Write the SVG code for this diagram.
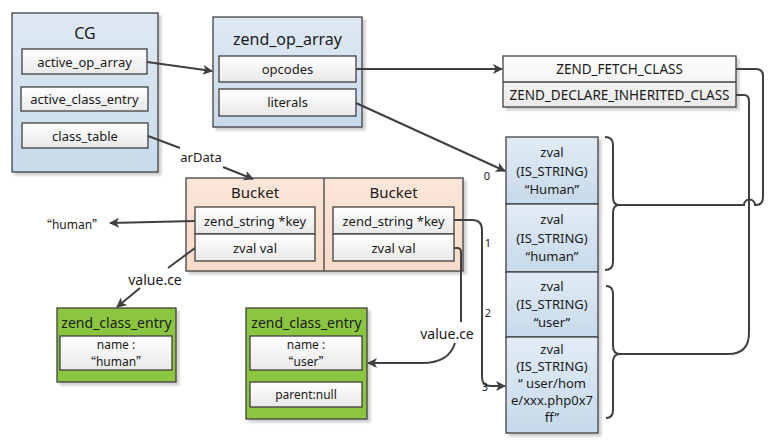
<svg xmlns="http://www.w3.org/2000/svg" width="771" height="446" viewBox="0 0 771 446">
<defs>
<linearGradient id="gBlue" x1="0" y1="0" x2="0" y2="1"><stop offset="0" stop-color="#dfe9f4"/><stop offset="1" stop-color="#c8dbeb"/></linearGradient>
<linearGradient id="gWhite" x1="0" y1="0" x2="0" y2="1"><stop offset="0" stop-color="#ffffff"/><stop offset="1" stop-color="#e9e9e9"/></linearGradient>
<linearGradient id="gZval" x1="0" y1="0" x2="0" y2="1"><stop offset="0" stop-color="#e2ecf6"/><stop offset="1" stop-color="#c6d9ea"/></linearGradient>
<linearGradient id="gPeach" x1="0" y1="0" x2="0" y2="1"><stop offset="0" stop-color="#fbe6d9"/><stop offset="1" stop-color="#f8dac8"/></linearGradient>
<filter id="sh" x="-10%" y="-10%" width="130%" height="130%"><feDropShadow dx="3" dy="3" stdDeviation="1.2" flood-color="#000" flood-opacity="0.18"/></filter>
<marker id="arr" viewBox="0 0 10 10" refX="9" refY="5" markerWidth="10" markerHeight="10" markerUnits="userSpaceOnUse" orient="auto"><path d="M0,0 L10,5 L0,10 L2.5,5 z" fill="#404040"/></marker>
</defs>
<style>
text{font-family:"Noto Sans","DejaVu Sans",sans-serif;fill:#1a1a1a;text-anchor:middle;dominant-baseline:central}
.q{font-family:"Noto Sans CJK SC","Noto Sans",sans-serif}
.box{stroke:#404040;stroke-width:1.3}
.outer{fill:url(#gBlue)}
.inner{fill:url(#gWhite)}
.zval{fill:url(#gZval)}
.peach{fill:url(#gPeach)}
.green{fill:#8cc63f}
.t16{font-size:16px}
.t15{font-size:15px}
.tce{font-size:14px}
.t14{font-size:13px}
.tcap{font-size:13.5px}
.tz{font-size:13px}
.t12{font-size:12px}
.t11{font-size:11px}
.ln{fill:none;stroke:#404040;stroke-width:2}
</style>
<rect width="771" height="446" fill="#fff"/>

<g id="CG">
<rect class="box outer" x="12" y="13" width="146" height="159" filter="url(#sh)"/>
<text class="t16" x="85" y="33">CG</text>
<rect class="box inner" x="22" y="49" width="125" height="25"/>
<text class="t14" x="84.5" y="61.5">active_op_array</text>
<rect class="box inner" x="21" y="87" width="127" height="24"/>
<text class="t14" x="84.5" y="99">active_class_entry</text>
<rect class="box inner" x="22" y="123" width="126" height="25"/>
<text class="t14" x="85" y="135.5">class_table</text>
</g>

<g id="zend_op_array">
<rect class="box outer" x="213" y="17" width="149" height="110" filter="url(#sh)"/>
<text class="t16" x="287.5" y="39">zend_op_array</text>
<rect class="box inner" x="219" y="56" width="137" height="26"/>
<text class="t14" x="287.5" y="69">opcodes</text>
<rect class="box inner" x="219" y="89" width="137" height="27"/>
<text class="t14" x="287.5" y="102">literals</text>
</g>

<g id="opcodes_list">
<rect class="box inner" x="503" y="56" width="233" height="51" filter="url(#sh)"/>
<line class="box" x1="503" y1="82" x2="736" y2="82"/>
<text class="tcap" x="619.5" y="69">ZEND_FETCH_CLASS</text>
<text class="tcap" x="619.5" y="95">ZEND_DECLARE_INHERITED_CLASS</text>
</g>

<g id="buckets">
<rect class="box peach" x="186" y="178" width="277" height="93" filter="url(#sh)"/>
<line class="box" x1="324" y1="178" x2="324" y2="271"/>
<text class="t15" x="255" y="192">Bucket</text>
<text class="t15" x="393.5" y="192">Bucket</text>
<rect class="box inner" x="195" y="207" width="120" height="27"/>
<text class="t14" x="255" y="220.5">zend_string *key</text>
<rect class="box inner" x="195" y="234" width="120" height="27"/>
<text class="t14" x="255" y="247.5">zval val</text>
<rect class="box inner" x="333" y="207" width="121" height="27"/>
<text class="t14" x="393.5" y="220.5">zend_string *key</text>
<rect class="box inner" x="333" y="234" width="121" height="27"/>
<text class="t14" x="393.5" y="247.5">zval val</text>
</g>

<g id="human_string">
<text class="t12" x="72" y="224"><tspan class="q">“</tspan>human<tspan class="q">”</tspan></text>
</g>

<g id="class_entry_human">
<rect class="box green" x="57" y="308" width="119" height="74" filter="url(#sh)"/>
<text class="tce" x="116.5" y="322">zend_class_entry</text>
<rect class="box inner" x="60" y="336" width="112" height="34"/>
<text class="t12" x="116" y="344">name :</text>
<text class="t12" x="116" y="361"><tspan class="q">“</tspan>human<tspan class="q">”</tspan></text>
</g>

<g id="class_entry_user">
<rect class="box green" x="246" y="308" width="121" height="111" filter="url(#sh)"/>
<text class="tce" x="306.5" y="322">zend_class_entry</text>
<rect class="box inner" x="250" y="336" width="112" height="34"/>
<text class="t12" x="306" y="344">name :</text>
<text class="t12" x="306" y="361"><tspan class="q">“</tspan>user<tspan class="q">”</tspan></text>
<rect class="box inner" x="250" y="382" width="112" height="25"/>
<text class="t12" x="306" y="394.5">parent:null</text>
</g>

<g id="literals_table">
<g filter="url(#sh)">
<rect class="box zval" x="506" y="137" width="92" height="67"/>
<rect class="box zval" x="506" y="204" width="92" height="68"/>
<rect class="box zval" x="506" y="272" width="92" height="65"/>
<rect class="box zval" x="506" y="337" width="92" height="96"/>
</g>
<text class="tz" x="552" y="152">zval</text>
<text class="tz" x="552" y="170.5">(IS_STRING)</text>
<text class="tz" x="552" y="189">“Human”</text>
<text class="tz" x="552" y="219">zval</text>
<text class="tz" x="552" y="237.5">(IS_STRING)</text>
<text class="tz" x="552" y="256">“human”</text>
<text class="tz" x="552" y="286">zval</text>
<text class="tz" x="552" y="304">(IS_STRING)</text>
<text class="tz" x="552" y="322">“user”</text>
<text class="tz" x="552" y="349">zval</text>
<text class="tz" x="552" y="366">(IS_STRING)</text>
<text class="tz" x="552" y="383">“ user/hom</text>
<text class="tz" x="552" y="400">e/xxx.php0x7</text>
<text class="tz" x="552" y="417">ff”</text>
</g>

<g id="connectors">
<line class="ln" x1="147" y1="62" x2="212" y2="71" marker-end="url(#arr)"/>
<line class="ln" x1="148" y1="136" x2="180" y2="148"/>
<text class="t14" x="201" y="157">arData</text>
<line class="ln" x1="223" y1="167" x2="253" y2="179" marker-end="url(#arr)"/>
<line class="ln" x1="356" y1="69" x2="502" y2="69" marker-end="url(#arr)"/>
<line class="ln" x1="356" y1="103" x2="505" y2="171" marker-end="url(#arr)"/>
<text class="t11" x="487" y="175">0</text>
<line class="ln" x1="195" y1="221" x2="110" y2="223" marker-end="url(#arr)"/>
<line class="ln" x1="195" y1="248" x2="168" y2="268"/>
<text class="tce" x="155" y="279">value.ce</text>
<line class="ln" x1="140" y1="288" x2="117" y2="307" marker-end="url(#arr)"/>
<path class="ln" d="M454,220 H472 Q482,220 482,230 V377 Q482,386 491,386 H505" marker-end="url(#arr)"/>
<text class="t11" x="488" y="242">1</text>
<text class="t11" x="488" y="312">2</text>
<text class="t11" x="485" y="386">3</text>
<path class="ln" d="M454,248 H457 Q461,248 461,252 V322"/>
<text class="tce" x="447" y="333">value.ce</text>
<path class="ln" d="M455,343 Q449,363 422,363 H368" marker-end="url(#arr)"/>
<path class="ln" d="M736,69 H756 Q763,69 763,76 V197 Q763,205 756,205 H755 A5.5,5.5 0 0 0 744,205 H619"/>
<path class="ln" d="M736,95 H744 Q749,95 749,101 V333 Q749,354 728,354 H620"/>
<path class="ln" d="M605,137 Q613,137 613,145 V197 Q613,205 619,205 Q613,205 613,213 V262 Q613,270 605,270"/>
<path class="ln" d="M606,286 Q613,286 613,294 V346 Q613,354 620,354 Q613,354 613,362 V410 Q613,418 606,418"/>
</g>
</svg>
